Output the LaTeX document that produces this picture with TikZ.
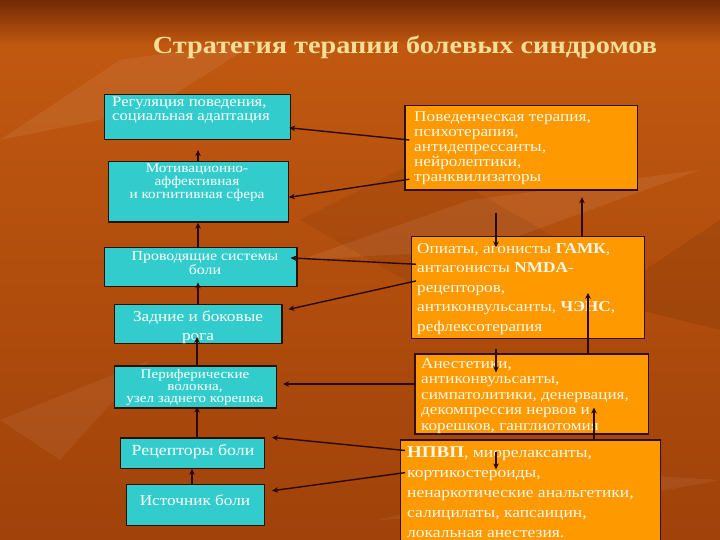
\documentclass[tikz,border=0pt]{standalone}
\usepackage{fontspec}
\setmainfont{Liberation Serif}[FakeStretch=1.15]
\usetikzlibrary{arrows.meta,fit}
\definecolor{bgmid}{RGB}{192,88,16}
\definecolor{bgtop}{RGB}{115,42,6}
\definecolor{bgbot}{RGB}{160,66,10}
\definecolor{cyanbox}{RGB}{51,204,204}
\definecolor{orangebox}{RGB}{255,153,0}
\definecolor{edgec}{RGB}{45,15,8}
\definecolor{arrowc}{RGB}{40,10,6}
\definecolor{titlec}{RGB}{245,222,150}
\definecolor{txtc}{RGB}{255,248,232}
\tikzset{
  cbox/.style={draw=edgec, line width=1.2pt, fill=cyanbox, inner sep=0pt},
  obox/.style={draw=edgec, line width=1.2pt, fill=orangebox, inner sep=0pt},
  ctext/.style={text=white, inner sep=0pt, align=center},
  otext/.style={text=txtc, inner sep=0pt, align=left, anchor=west},
  arr/.style={draw=arrowc, line width=1.4pt, -{Stealth[length=6pt,width=5.5pt]}},
}
\newcommand\fsz[2]{\fontsize{#1}{#2}\selectfont}
\begin{document}
\begin{tikzpicture}[x=1pt,y=-1pt]
\useasboundingbox (0,0) rectangle (720,540);
\clip (0,0) rectangle (720,540);
% background
\shade[top color=bgtop, bottom color=bgmid] (0,0) rectangle (720,45);
\shade[top color=bgmid, bottom color=bgbot] (0,45) rectangle (720,540);
\fill[white, opacity=0.07] (0,140) -- (120,60) -- (260,40) -- (150,110) -- cycle;
\fill[white, opacity=0.07] (300,260) -- (470,200) -- (700,170) -- (480,250) -- cycle;
\fill[black, opacity=0.06] (300,220) -- (420,160) -- (560,240) -- (440,300) -- cycle;
\fill[white, opacity=0.06] (0,420) -- (150,360) -- (60,460) -- cycle;
\fill[white, opacity=0.06] (380,520) -- (560,470) -- (720,480) -- (560,510) -- cycle;
\fill[black, opacity=0.08] (600,300) -- (720,220) -- (720,330) -- cycle;

% title
\node[text=titlec, font=\fsz{24.6}{30}\bfseries] (title) at (405,47) {Стратегия терапии болевых синдромов};

% left boxes
\node[cbox, fit={(104.7,94.7) (290.6,139.5)}] (L1) {};
\node[cbox, fit={(108.4,161.8) (288.3,222.1)}] (L2) {};
\node[cbox, fit={(104.7,247.2) (297,286.8)}] (L3) {};
\node[cbox, fit={(114.3,304.4) (281.9,343.3)}] (L4) {};
\node[cbox, fit={(114.3,366) (276.4,408)}] (L5) {};
\node[cbox, fit={(120.8,438) (264.5,468.3)}] (L6) {};
\node[cbox, fit={(126.7,484.8) (264.5,525.1)}] (L7) {};

% right boxes
\node[obox, fit={(405,105.4) (637.3,190.1)}] (RA) {};
\node[obox, fit={(411.8,236.6) (644.6,338.2)}] (RB) {};
\node[obox, fit={(415,354) (648.8,433.9)}] (RC) {};
\node[obox, fit={(400.8,440) (660.2,560)}] (RD) {};

% left texts
\node[ctext, align=left, anchor=west, font=\fsz{14.5}{13.5}] (t1) at (112,110) {Регуляция поведения,\\социальная адаптация};
\node[ctext, font=\fsz{13.3}{11.5}] (t2) at (197,182.5) {Мотивационно-\\аффективная\\и когнитивная сфера};
\node[ctext, font=\fsz{13.8}{13.5}] (t3) at (205,263) {Проводящие системы\\боли};
\node[ctext, font=\fsz{15}{19}] (t4) at (198,327.5) {Задние и боковые\\рога};
\node[ctext, font=\fsz{13.1}{12}] (t5) at (195,387) {Периферические\\волокна,\\узел заднего корешка};
\node[ctext, font=\fsz{15.5}{18}] (t6) at (193,452) {Рецепторы боли};
\node[ctext, font=\fsz{15}{18}] (t7) at (195,500.5) {Источник боли};

% right texts
\node[otext, font=\fsz{15}{15}] (tA) at (414,148) {Поведенческая терапия,\\психотерапия,\\антидепрессанты,\\нейролептики,\\транквилизаторы};
\node[otext, font=\fsz{15}{19.5}] (tB) at (417,289) {Опиаты, агонисты \textbf{ГАМК},\\антагонисты \textbf{NMDA}-\\рецепторов,\\антиконвульсанты, \textbf{ЧЭНС},\\рефлексотерапия};
\node[otext, font=\fsz{14.9}{15.5}] (tC) at (421,396) {Анестетики,\\антиконвульсанты,\\симпатолитики, денервация,\\декомпрессия нервов и\\корешков, ганглиотомия};
\node[otext, font=\fsz{15.2}{20}] (tD) at (407,492) {\textbf{\fontsize{16.5}{20}\selectfont НПВП}, миорелаксанты,\\кортикостероиды,\\ненаркотические анальгетики,\\салицилаты, капсаицин,\\локальная анестезия.};

% left vertical arrows
\draw[arr, shorten >=10pt] (L2.north -| 198,0) -- (L1.south -| 198,0);
\draw[arr] (L3.north -| 198,0) -- (L2.south -| 198,0);
\draw[arr, shorten >=-5pt] (L4.north -| 198,0) -- (L3.south -| 198,0);
\draw[arr, shorten >=-7pt] (L5.north -| 197,0) -- (L4.south -| 197,0);
\draw[arr, shorten >=-2pt] (L6.north -| 197,0) -- (L5.south -| 197,0);
\draw[arr] (L7.north -| 192,0) -- (L6.south -| 192,0);

% right-to-left arrows
\draw[arr, shorten <=-5pt, shorten >=-2pt] (RA.west |- 0,139.5) -- (L1.east |- 0,128);
\draw[arr, shorten <=-5pt] (RA.west |- 0,180) -- (L2.east |- 0,197.3);
\draw[arr, shorten <=-5pt, shorten >=-7pt] (RB.west |- 0,264) -- (L3.east |- 0,258.3);
\draw[arr, shorten <=-5pt, shorten >=6pt] (RB.west |- 0,282) -- (L4.east |- 0,310.7);
\draw[arr, shorten <=-2pt, shorten >=6pt] (RC.west |- 0,384) -- (L5.east |- 0,384);
\draw[arr, shorten <=-5pt, shorten >=7pt] (RD.west |- 0,450) -- (L6.east |- 0,436.7);
\draw[arr, shorten <=-5pt, shorten >=7pt] (RD.west |- 0,473.3) -- (L7.east |- 0,491.7);

% right vertical arrows (down)
\draw[arr, shorten <=22pt, shorten >=-11.5pt] (RA.south -| 496,0) -- (RB.north -| 496,0);
\draw[arr, shorten <=10pt, shorten >=-19pt] (RB.south -| 496,0) -- (RC.north -| 496,0);
\draw[arr, shorten <=17pt, shorten >=-30pt] (RC.south -| 496,0) -- (RD.north -| 496,0);
% right vertical arrows (up)
\draw[arr, shorten >=6.5pt] (RB.north -| 582,0) -- (RA.south -| 582,0);
\draw[arr, shorten >=-46pt] (RC.north -| 588,0) -- (RB.south -| 588,0);
\draw[arr, shorten >=-27pt] (RD.north -| 594,0) -- (RC.south -| 594,0);
\end{tikzpicture}
\end{document}
